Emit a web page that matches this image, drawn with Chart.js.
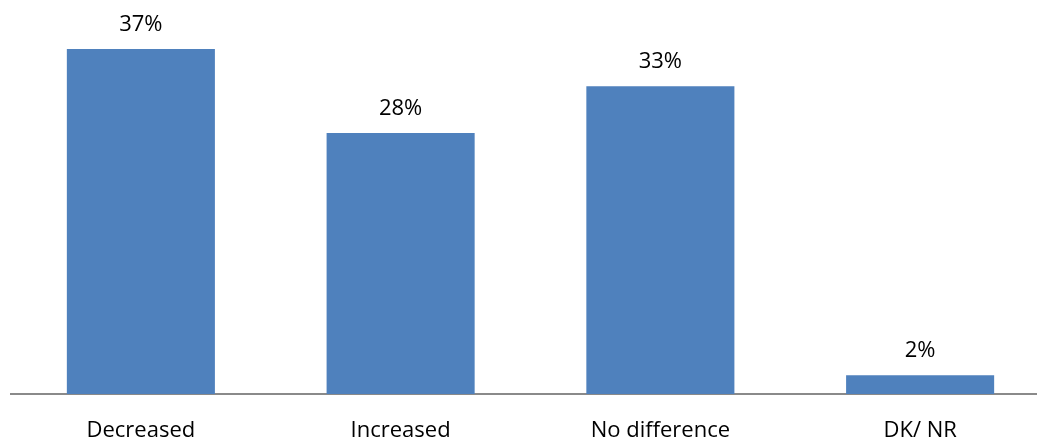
<!DOCTYPE html>
<html lang="en">
<head>
  <meta charset="UTF-8">
  <title>Change in situation</title>
  <script src="https://cdn.jsdelivr.net/npm/chart.js"></script>
  <style>
    html, body { margin: 0; padding: 0; overflow: hidden; background: #ffffff; }
    .chart-box { position: relative; width: 1050px; height: 441px; }
  </style>
</head>
<body>

<div class="chart-box">
  <canvas id="answerChart"></canvas>
</div>

<script>
const categories = ["Decreased", "Increased", "No difference", "DK/ NR"];
const shares = [37, 28, 33, 2];

const barBlue = "#4F81BD";
const labelFont = { family: "'Open Sans', sans-serif", size: 22 };

// draws the % value above each bar
const valueLabels = {
  id: 'valueLabels',
  afterDatasetsDraw(chart) {
    const ctx = chart.ctx;
    const meta = chart.getDatasetMeta(0);
    ctx.save();
    ctx.font = `${labelFont.size}px ${labelFont.family}`;
    ctx.fillStyle = "#000";
    ctx.textAlign = "center";
    ctx.textBaseline = "alphabetic";
    meta.data.forEach((bar, i) => {
      ctx.fillText(shares[i] + "%", bar.x, bar.y - 18);
    });
    ctx.restore();
  }
};

new Chart(document.getElementById("answerChart"), {
  type: 'bar',
  data: {
    labels: categories,
    datasets: [{
      data: shares,
      backgroundColor: barBlue,
      categoryPercentage: 1,
      barPercentage: 0.57
    }]
  },
  options: {
    responsive: true,
    maintainAspectRatio: false,
    animation: false,
    layout: { padding: { left: 11, top: 21, right: 0, bottom: 0 } },
    plugins: { legend: { display: false }, tooltip: { enabled: false } },
    scales: {
      x: {
        grid: { display: false, drawTicks: false },
        border: { display: true, color: "#8a8a8a", width: 2 },
        ticks: { color: "#000", font: labelFont, padding: 24, maxRotation: 0 },
        afterFit(scale) { scale.height = 47; }
      },
      y: {
        display: false,
        min: 0,
        max: 40
      }
    }
  },
  plugins: [valueLabels]
});
</script>

</body>
</html>
